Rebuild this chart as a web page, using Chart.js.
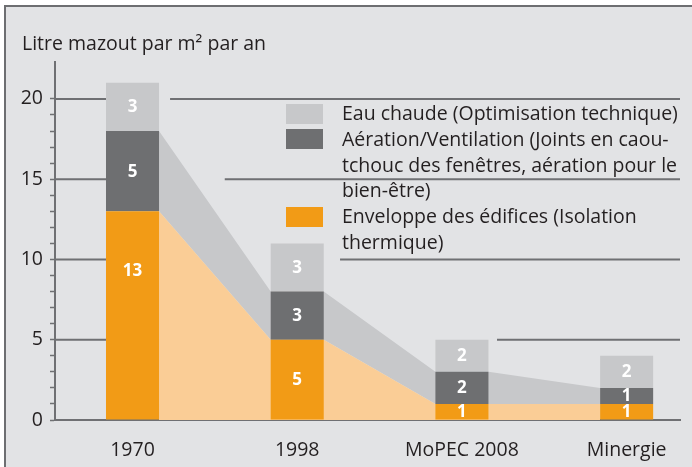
<!DOCTYPE html>
<html><head><meta charset="utf-8">
<script src="https://cdn.jsdelivr.net/npm/chart.js@4.4.1/dist/chart.umd.min.js"></script>
<style>
html,body{margin:0;padding:0;background:#fff;}
#wrap{position:relative;width:692px;height:467px;overflow:hidden;background:#fff;font-family:"Open Sans",sans-serif;color:#231f20;}
#frame{position:absolute;left:4px;top:5px;right:0;bottom:0;background:#e2e3e5;border-left:2px solid #6d6e71;border-top:2px solid #6d6e71;}
#c{position:absolute;left:0;top:0;}
#title{position:absolute;left:22px;top:29.5px;font-size:19.5px;line-height:25.8px;white-space:nowrap;}
#legend{position:absolute;left:286px;top:100px;font-size:19.5px;line-height:25.8px;white-space:nowrap;}
.item{position:relative;padding-left:56px;}
.sw{position:absolute;left:0;top:3.5px;width:37px;height:20px;}
</style></head><body>
<div id="wrap">
<div id="frame"></div>
<canvas id="c" width="692" height="467"></canvas>
<div id="title">Litre mazout par m² par an</div>
<div id="legend"></div>
</div>
<script>
// ---- data ----
const categories = ["1970", "1998", "MoPEC 2008", "Minergie"];
const enveloppe = [13, 5, 1, 1];      // Enveloppe des édifices
const aeration  = [5, 3, 2, 1];       // Aération/Ventilation
const eauChaude = [3, 3, 2, 2];       // Eau chaude
const yTicksMajor = [0, 5, 10, 15, 20];
const yMinorStep = 1;
const legendLabels = [
  "Eau chaude (Optimisation technique)",
  "Aération/Ventilation (Joints en caou-\ntchouc des fenêtres, aération pour le\nbien-être)",
  "Enveloppe des édifices (Isolation\nthermique)"
];

// ---- style ----
const COL = {
  orange: '#f29b16', peach: '#facd96', dark: '#6e6f71', light: '#c7c8ca',
  axis: '#6f7073', text: '#231f20'
};
const BAR_PCT = 0.322;
const HALF = BAR_PCT / 2;
const FONT = '"Open Sans", sans-serif';

// legend (HTML)
const legendColors = [COL.light, COL.dark, COL.orange];
document.getElementById('legend').innerHTML = legendLabels.map((t, i) =>
  '<div class="item"><div class="sw" style="background:' + legendColors[i] + '"></div>' +
  t.split('\n').join('<br>') + '</div>').join('');

// derived series
const cumAer = enveloppe.map((v, i) => v + aeration[i]);
function bars(vals) { return vals.map((v, i) => ({ x: i, y: v })); }
function bridge(vals) {
  const pts = [];
  for (let i = 0; i < vals.length - 1; i++) {
    pts.push({ x: i + HALF, y: vals[i] });
    pts.push({ x: i + 1 - HALF, y: vals[i + 1] });
  }
  return pts;
}

const gridPlugin = {
  id: 'gapGrid',
  beforeDatasetsDraw(chart, args, opts) {
    const { ctx, chartArea: a, scales: { x, y } } = chart;
    ctx.save();
    ctx.strokeStyle = opts.color; ctx.lineWidth = opts.width;
    yTicksMajor.forEach(v => {
      if (v === 0) return;
      const py = y.getPixelForValue(v);
      ctx.beginPath();
      ctx.moveTo(a.left, py); ctx.lineTo(x.getPixelForValue(0), py);
      ctx.moveTo(x.getPixelForValue(opts.resumeAt[v]), py); ctx.lineTo(a.right, py);
      ctx.stroke();
    });
    ctx.restore();
  }
};

const labelPlugin = {
  id: 'segLabels',
  afterDatasetsDraw(chart, args, opts) {
    const { ctx } = chart;
    ctx.save();
    ctx.fillStyle = '#ffffff';
    ctx.font = 'bold 17px ' + FONT;
    ctx.textAlign = 'center'; ctx.textBaseline = 'middle';
    [0, 1, 2].forEach(di => {
      const ds = chart.data.datasets[di];
      chart.getDatasetMeta(di).data.forEach((el, i) => {
        const p = el.getProps(['x', 'y', 'base'], true);
        const top = Math.min(p.y, p.base);
        const cy = Math.min((p.y + p.base) / 2, top + opts.maxDrop);
        ctx.fillText(String(ds.data[i].y), p.x, cy + 0.5);
      });
    });
    ctx.restore();
  }
};

new Chart(document.getElementById('c'), {
  data: {
    datasets: [
      { type: 'bar', label: 'Enveloppe', data: bars(enveloppe), backgroundColor: COL.orange, stack: 'b', order: 0,
        barPercentage: BAR_PCT, categoryPercentage: 1 },
      { type: 'bar', label: 'Aération', data: bars(aeration), backgroundColor: COL.dark, stack: 'b', order: 0,
        barPercentage: BAR_PCT, categoryPercentage: 1 },
      { type: 'bar', label: 'Eau chaude', data: bars(eauChaude), backgroundColor: COL.light, stack: 'b', order: 0,
        barPercentage: BAR_PCT, categoryPercentage: 1 },
      { type: 'line', label: 'areaEnv', data: bridge(enveloppe), fill: 'origin', backgroundColor: COL.peach,
        borderWidth: 0, pointRadius: 0, tension: 0, stack: 'a1', order: 2 },
      { type: 'line', label: 'areaAer', data: bridge(cumAer), fill: '-1', backgroundColor: COL.light,
        borderWidth: 0, pointRadius: 0, tension: 0, stack: 'a2', order: 3 }
    ]
  },
  options: {
    responsive: false, animation: false, events: [],
    layout: { padding: { left: 0, top: 62, right: 12, bottom: 0 } },
    plugins: {
      legend: { display: false }, tooltip: { enabled: false }, title: { display: false },
      gapGrid: { color: COL.axis, width: 2, resumeAt: { 20: 0.228, 15: 0.56, 10: 1.26, 5: 2.213 } },
      segLabels: { maxDrop: 59 }
    },
    scales: {
      x: {
        type: 'linear', min: -0.4706, max: 3.324, offset: false, z: 1,
        grid: { display: false },
        border: { display: true, color: COL.axis, width: 2 },
        afterBuildTicks: s => { s.ticks = categories.map((_, i) => ({ value: i })); },
        afterFit: s => { s.height = 47; },
        ticks: { autoSkip: false, maxRotation: 0, padding: 11, color: COL.text,
          font: { family: FONT, size: 19.5 }, callback: v => categories[v] }
      },
      y: {
        stacked: true, min: 0, max: 22.3,
        afterBuildTicks: s => {
          const t = [];
          for (let v = yTicksMajor[0]; v <= yTicksMajor[yTicksMajor.length - 1]; v += yMinorStep) t.push({ value: v });
          s.ticks = t;
        },
        afterFit: s => { s.width = 55; },
        grid: { display: true, drawOnChartArea: false, drawTicks: true, tickLength: 5, tickColor: COL.axis, tickWidth: 1.5 },
        border: { display: true, color: COL.axis, width: 2 },
        ticks: { autoSkip: false, padding: 7, color: COL.text, font: { family: FONT, size: 19.5 },
          callback: v => yTicksMajor.includes(v) ? String(v) : '' }
      }
    }
  },
  plugins: [gridPlugin, labelPlugin]
});
</script>
</body></html>
